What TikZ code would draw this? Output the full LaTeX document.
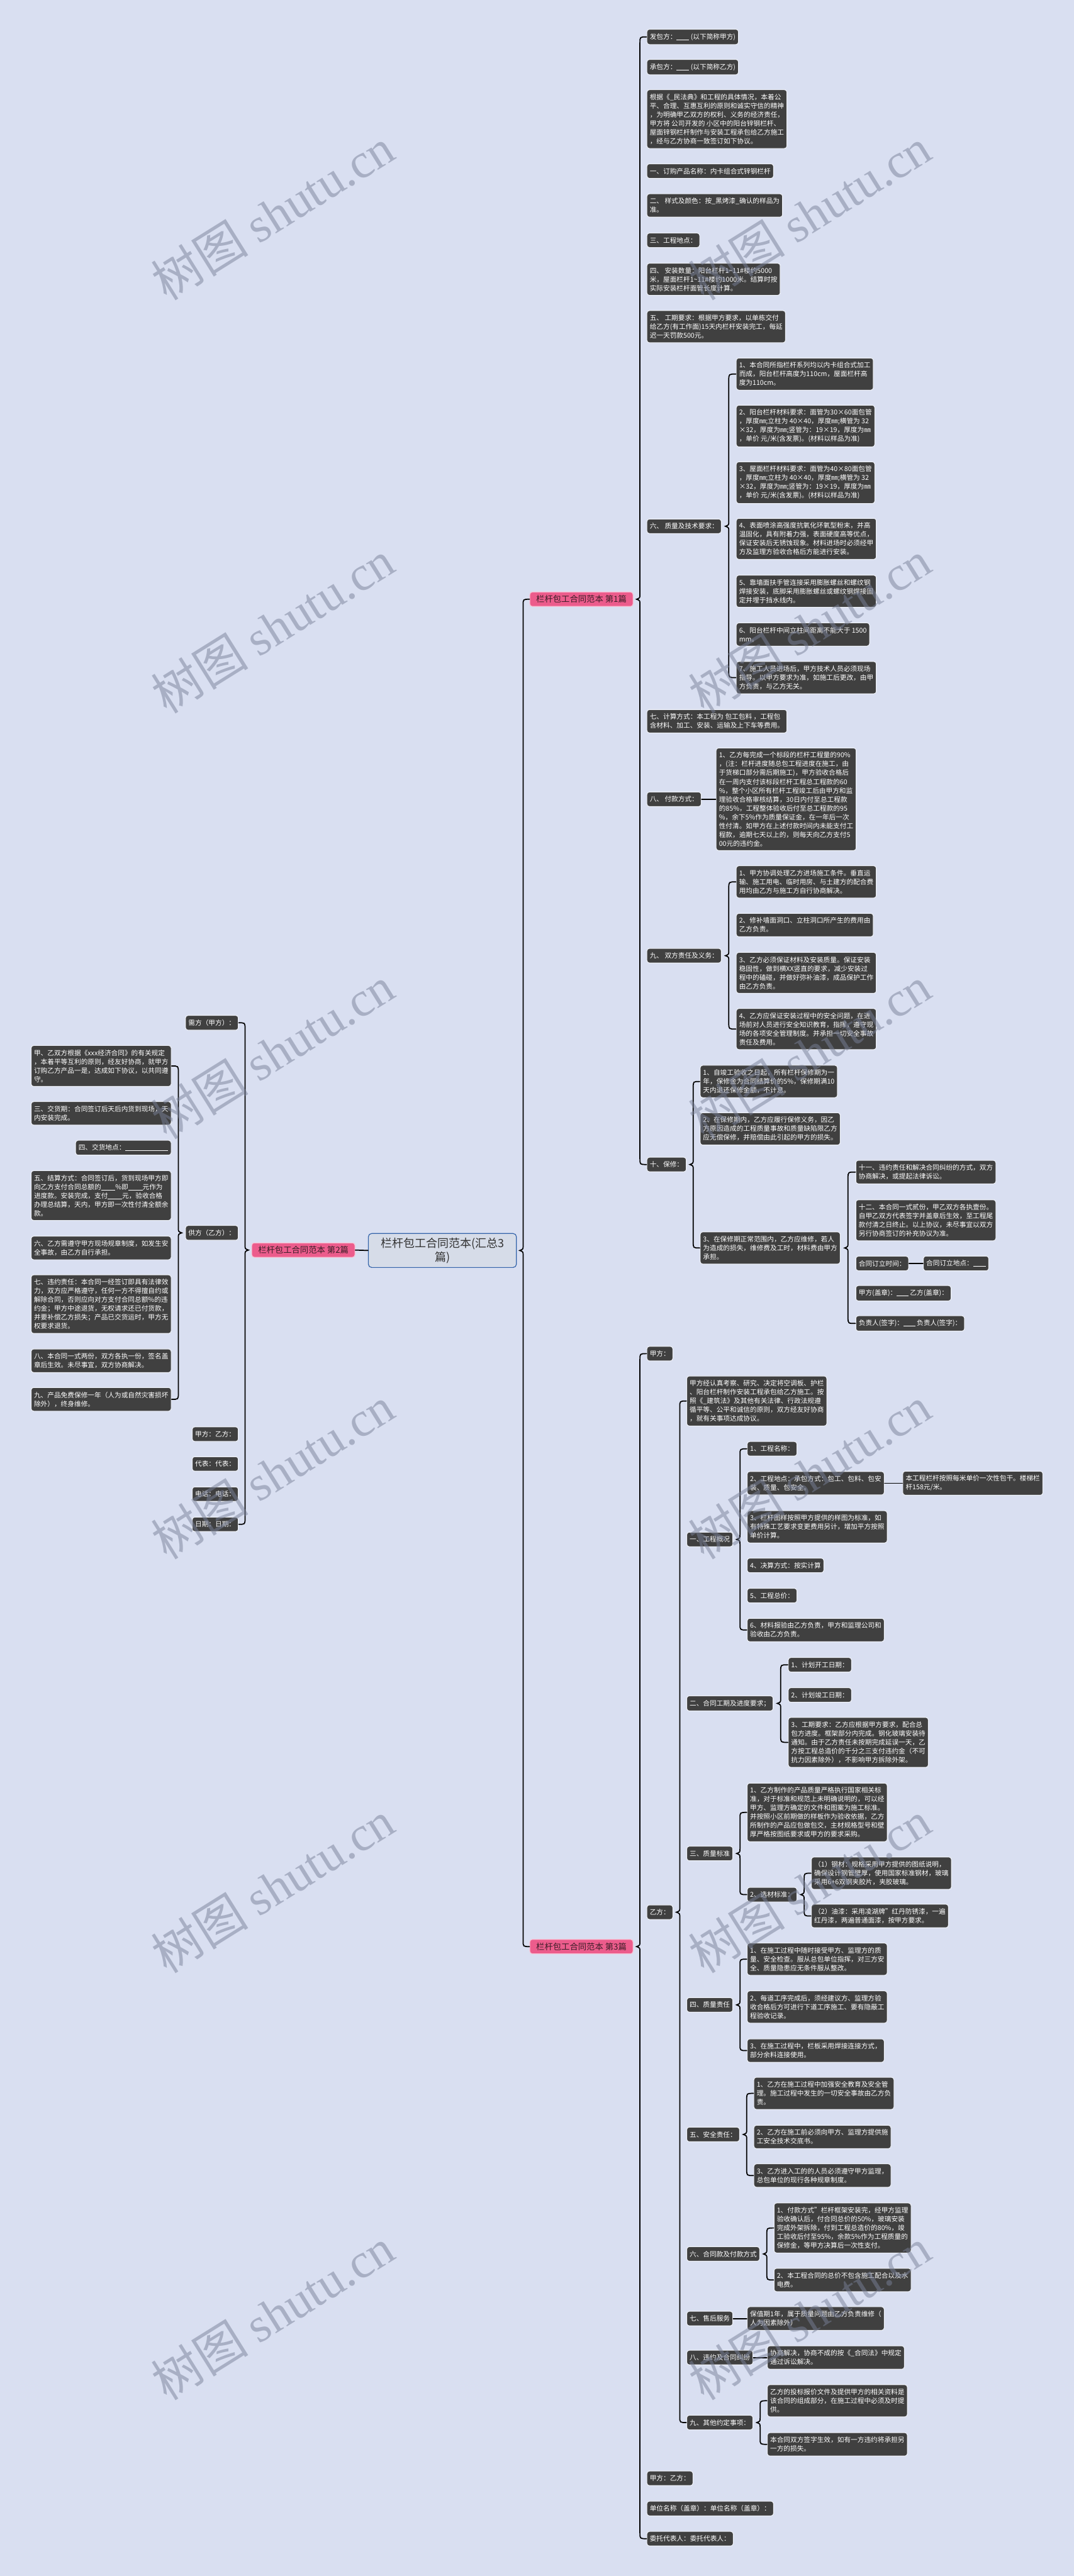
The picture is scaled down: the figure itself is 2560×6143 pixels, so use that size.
\documentclass[tikz,border=0pt]{standalone}
\usepackage{fontspec}
\setmainfont{Noto Sans CJK SC}
\newfontfamily\wmlatin{Liberation Serif}
\usetikzlibrary{calc}
\definecolor{bgc}{RGB}{217,223,241}
\definecolor{leafc}{RGB}{64,64,64}
\definecolor{leafborder}{RGB}{236,239,246}
\definecolor{pinkc}{RGB}{236,92,140}
\definecolor{pinkborder}{RGB}{246,196,214}
\definecolor{pinktext}{RGB}{60,30,40}
\definecolor{centc}{RGB}{214,220,232}
\definecolor{centborder}{RGB}{52,100,170}
\definecolor{wmc}{RGB}{120,128,152}
\newcommand\blank[1]{\rule[-0.12em]{#1}{0.07em}}
\newcommand\mmR[3]{\draw[conn] let \p1=(#1.east), \p2=(#2.west), \p3=(#3.west), \p4=($(#1.east)!0.5!(#2.west)$) in
 (\x2,\y2) .. controls (\x4,\y2) .. (\x4,\y2-7pt) -- (\x4,\y1+6pt) .. controls (\x4,\y1+1.5pt) .. (\x4-4pt,\y1) .. controls (\x4,\y1-1.5pt) .. (\x4,\y1-6pt) -- (\x4,\y3+7pt) .. controls (\x4,\y3) .. (\x3,\y3);}
\newcommand\mmL[3]{\draw[conn] let \p1=(#1.west), \p2=(#2.east), \p3=(#3.east), \p4=($(#1.west)!0.5!(#2.east)$) in
 (\x2,\y2) .. controls (\x4,\y2) .. (\x4,\y2-7pt) -- (\x4,\y1+6pt) .. controls (\x4,\y1+1.5pt) .. (\x4+4pt,\y1) .. controls (\x4,\y1-1.5pt) .. (\x4,\y1-6pt) -- (\x4,\y3+7pt) .. controls (\x4,\y3) .. (\x3,\y3);}
\begin{document}
\begin{tikzpicture}[x=0.5pt,y=-0.5pt,
 conn/.style={line width=1.3pt,draw=black,line cap=round},
 box/.style={rounded corners=3pt,line width=0.9pt,inner xsep=3.5pt,inner ysep=5pt,align=left,font=\fontsize{8pt}{10.5pt}\selectfont},
 leaf/.style={box,fill=leafc,draw=leafborder,text=white},
 topic/.style={rounded corners=3pt,line width=0.9pt,fill=pinkc,draw=pinkborder,text=pinktext,font=\fontsize{10pt}{12pt}\selectfont,inner xsep=4.5pt,inner ysep=4pt,minimum width=123pt},
 root/.style={rounded corners=4pt,line width=0.9pt,fill=centc,draw=centborder,text=black!80,font=\fontsize{13.5pt}{16.5pt}\selectfont,align=center,minimum width=176.5pt,inner ysep=5pt},
 wm/.style={text=wmc,text opacity=0.5,font=\fontsize{58pt}{60pt}\selectfont,rotate=32}
]
\fill[bgc] (0,0) rectangle (2560,6143);
\useasboundingbox (0,0) rectangle (2560,6143);

% root and topics
\node[root] (root) at (1054.5,2982) {栏杆包工合同范本(汇总3\\篇)};
\node[topic,anchor=west] (t1) at (1262,1429) {栏杆包工合同范本 第1篇};
\node[topic,anchor=east] (t2) at (847,2981) {栏杆包工合同范本 第2篇};
\node[topic,anchor=west] (t3) at (1262,4642) {栏杆包工合同范本 第3篇};

% ---------- branch 1 ----------
\node[leaf,anchor=west] (a1) at (1541,88) {发包方：\blank{15pt} (以下简称甲方)};
\node[leaf,anchor=west] (a2) at (1541,160) {承包方：\blank{15pt} (以下简称乙方)};
\node[leaf,anchor=west] (a3) at (1541,284) {根据《\_民法典》和工程的具体情况，本着公\\平、合理、互惠互利的原则和诚实守信的精神\\，为明确甲乙双方的权利、义务的经济责任，\\甲方将 公司开发的 小区中的阳台锌钢栏杆、\\屋面锌钢栏杆制作与安装工程承包给乙方施工\\，经与乙方协商一致签订如下协议。};
\node[leaf,anchor=west] (a4) at (1541,408) {一、订购产品名称：内卡组合式锌钢栏杆};
\node[leaf,anchor=west] (a5) at (1541,490) {二、 样式及颜色：按\_黑烤漆\_确认的样品为\\准。};
\node[leaf,anchor=west] (a6) at (1541,573) {三、工程地点：};
\node[leaf,anchor=west] (a7) at (1541,666) {四、 安装数量：阳台栏杆1\textasciitilde 11\#楼约5000\\米，屋面栏杆1\textasciitilde 11\#楼约1000米。结算时按\\实际安装栏杆面管长度计算。};
\node[leaf,anchor=west] (a8) at (1541,779) {五、 工期要求：根据甲方要求，以单栋交付\\给乙方(有工作面)15天内栏杆安装完工，每延\\迟一天罚款500元。};
\node[leaf,anchor=west] (a9) at (1541,1255) {六、 质量及技术要求：};
\node[leaf,anchor=west] (a9s1) at (1754,892) {1、本合同所指栏杆系列均以内卡组合式加工\\而成，阳台栏杆高度为110cm，屋面栏杆高\\度为110cm。};
\node[leaf,anchor=west] (a9s2) at (1754,1016) {2、阳台栏杆材料要求：面管为30×60面包管\\，厚度㎜;立柱为 40×40，厚度㎜;横管为 32\\×32，厚度为㎜;竖管为：19×19，厚度为㎜\\，单价 元/米(含发票)。(材料以样品为准)};
\node[leaf,anchor=west] (a9s3) at (1754,1151) {3、屋面栏杆材料要求：面管为40×80面包管\\，厚度㎜;立柱为 40×40，厚度㎜;横管为 32\\×32，厚度为㎜;竖管为：19×19，厚度为㎜\\，单价 元/米(含发票)。(材料以样品为准)};
\node[leaf,anchor=west] (a9s4) at (1754,1285) {4、表面喷涂高强度抗氧化环氧型粉末，并高\\温固化，具有附着力强，表面硬度高等优点，\\保证安装后无锈蚀现象。材料进场时必须经甲\\方及监理方验收合格后方能进行安装。};
\node[leaf,anchor=west] (a9s5) at (1754,1410) {5、靠墙面扶手管连接采用膨胀螺丝和螺纹钢\\焊接安装，底脚采用膨胀螺丝或螺纹钢焊接固\\定并埋于挡水线内。};
\node[leaf,anchor=west] (a9s6) at (1754,1513) {6、阳台栏杆中间立柱间距离不能大于 1500\\mm。};
\node[leaf,anchor=west] (a9s7) at (1754,1616) {7、施工人员进场后，甲方技术人员必须现场\\指导。以甲方要求为准，如施工后更改，由甲\\方负责，与乙方无关。};
\node[leaf,anchor=west] (a10) at (1541,1720) {七、计算方式：本工程为 包工包料 ，工程包\\含材料、加工、安装、运输及上下车等费用。};
\node[leaf,anchor=west] (a11) at (1541,1906) {八、 付款方式：};
\node[leaf,anchor=west] (a11s) at (1706,1906) {1、乙方每完成一个标段的栏杆工程量的90\%\\，(注：栏杆进度随总包工程进度在施工，由\\于货梯口部分需后期施工)，甲方验收合格后\\在一周内支付该标段栏杆工程总工程款的60\\\%，整个小区所有栏杆工程竣工后由甲方和监\\理验收合格审核结算，30日内付至总工程款\\的85\%，工程整体验收后付至总工程款的95\\\%，余下5\%作为质量保证金，在一年后一次\\性付清。如甲方在上述付款时间内未能支付工\\程款，逾期七天以上的，则每天向乙方支付5\\00元的违约金。};
\node[leaf,anchor=west] (a12) at (1541,2279) {九、 双方责任及义务：};
\node[leaf,anchor=west] (a12s1) at (1754,2103) {1、甲方协调处理乙方进场施工条件。垂直运\\输、施工用电、临时用房、与土建方的配合费\\用均由乙方与施工方自行协商解决。};
\node[leaf,anchor=west] (a12s2) at (1754,2206) {2、修补墙面洞口、立柱洞口所产生的费用由\\乙方负责。};
\node[leaf,anchor=west] (a12s3) at (1754,2320) {3、乙方必须保证材料及安装质量。保证安装\\稳固性，做到横XX竖直的要求，减少安装过\\程中的磕碰，并做好弥补油漆，成品保护工作\\由乙方负责。};
\node[leaf,anchor=west] (a12s4) at (1754,2454) {4、乙方应保证安装过程中的安全问题，在进\\场前对人员进行安全知识教育，指挥，遵守现\\场的各项安全管理制度。并承担一切安全事故\\责任及费用。};
\node[leaf,anchor=west] (a13) at (1541,2777) {十、保修：};
\node[leaf,anchor=west] (a13s1) at (1668,2579) {1、自竣工验收之日起，所有栏杆保修期为一\\年，保修金为合同结算价的5\%，保修期满10\\天内退还保修金额，不计息。};
\node[leaf,anchor=west] (a13s2) at (1668,2692) {2、在保修期内，乙方应履行保修义务，因乙\\方原因造成的工程质量事故和质量缺陷限乙方\\应无偿保修，并赔偿由此引起的甲方的损失。};
\node[leaf,anchor=west] (a13s3) at (1668,2976) {3、在保修期正常范围内，乙方应维修，若人\\为造成的损失，维修费及工时，材料费由甲方\\承担。};
\node[leaf,anchor=west] (x1) at (2039,2795) {十一、违约责任和解决合同纠纷的方式，双方\\协商解决，或提起法律诉讼。};
\node[leaf,anchor=west] (x2) at (2039,2910) {十二、本合同一式贰份，甲乙双方各执壹份。\\自甲乙双方代表签字并盖章后生效，至工程尾\\款付清之日终止。以上协议，未尽事宜以双方\\另行协商签订的补充协议为准。};
\node[leaf,anchor=west] (x3) at (2039,3013) {合同订立时间：};
\node[leaf,anchor=west] (x3b) at (2200,3013) {合同订立地点：\blank{15pt}};
\node[leaf,anchor=west] (x4) at (2039,3084) {甲方(盖章)：\blank{14pt} 乙方(盖章)：};
\node[leaf,anchor=west] (x5) at (2039,3156) {负责人(签字)：\blank{14pt} 负责人(签字)：};

% ---------- branch 2 ----------
\node[leaf,anchor=east] (l1) at (569,2439) {需方（甲方）：};
\node[leaf,anchor=east] (l2) at (569,2940) {供方（乙方）：};
\node[leaf,anchor=east] (l3) at (569,3420) {甲方：乙方：};
\node[leaf,anchor=east] (l4) at (569,3491) {代表：代表：};
\node[leaf,anchor=east] (l5) at (569,3563) {电话：电话：};
\node[leaf,anchor=east] (l6) at (569,3635) {日期：日期：};
\node[leaf,anchor=east] (m1) at (409,2542) {甲、乙双方根据《xxx经济合同》的有关规定\\，本着平等互利的原则，经友好协商，就甲方\\订购乙方产品一是，达成如下协议，以共同遵\\守。};
\node[leaf,anchor=east] (m2) at (409,2655) {三、交货期：合同签订后天后内货到现场，天\\内安装完成。};
\node[leaf,anchor=east] (m3) at (409,2737) {四、交货地点：\blank{51pt}};
\node[leaf,anchor=east] (m4) at (409,2851) {五、结算方式：合同签订后，货到现场甲方即\\向乙方支付合同总额的\blank{17pt}\%即\blank{17pt}元作为\\进度款。安装完成，支付\blank{17pt}元，验收合格\\办理总结算，天内，甲方即一次性付清全额余\\款。};
\node[leaf,anchor=east] (m5) at (409,2976) {六、乙方需遵守甲方现场规章制度，如发生安\\全事故，由乙方自行承担。};
\node[leaf,anchor=east] (m6) at (409,3110) {七、违约责任：本合同一经签订即具有法律效\\力，双方应严格遵守，任何一方不得擅自约或\\解除合同，否则应向对方支付合同总额\%的违\\约金；甲方中途退货，无权请求还已付货款，\\并要补偿乙方损失；产品已交货运时，甲方无\\权要求退货。};
\node[leaf,anchor=east] (m7) at (409,3245) {八、本合同一式两份，双方各执一份，签名盖\\章后生效。未尽事宜，双方协商解决。};
\node[leaf,anchor=east] (m8) at (409,3337) {九、产品免费保修一年（人为或自然灾害损坏\\除外），终身维修。};

% ---------- branch 3 ----------
\node[leaf,anchor=west] (c1) at (1541,3228) {甲方：};
\node[leaf,anchor=west] (c2) at (1541,4560) {乙方：};
\node[leaf,anchor=west] (c3) at (1541,5910) {甲方：乙方：};
\node[leaf,anchor=west] (c4) at (1541,5982) {单位名称（盖章）：单位名称（盖章）：};
\node[leaf,anchor=west] (c5) at (1541,6054) {委托代表人：委托代表人：};
\node[leaf,anchor=west] (d0) at (1636,3341) {甲方经认真考察、研究、决定将空调板、护栏\\、阳台栏杆制作安装工程承包给乙方施工。按\\照《\_建筑法》及其他有关法律、行政法规遵\\循平等、公平和诚信的原则，双方经友好协商\\，就有关事项达成协议。};
\node[leaf,anchor=west] (d1) at (1636,3671) {一、工程概况};
\node[leaf,anchor=west] (d1s1) at (1780,3455) {1、工程名称：};
\node[leaf,anchor=west] (d1s2) at (1780,3537) {2、工程地点：承包方式：包工、包料、包安\\装、质量、包安全。};
\node[leaf,anchor=west] (d1s2b) at (2151,3537) {本工程栏杆按照每米单价一次性包干。楼梯栏\\杆158元/米。};
\node[leaf,anchor=west] (d1s3) at (1780,3641) {3、栏杆图样按照甲方提供的样图为标准，如\\有特殊工艺要求变更费用另计，增加平方按照\\单价计算。};
\node[leaf,anchor=west] (d1s4) at (1780,3733) {4、决算方式：按实计算};
\node[leaf,anchor=west] (d1s5) at (1780,3805) {5、工程总价：};
\node[leaf,anchor=west] (d1s6) at (1780,3887) {6、材料报验由乙方负责，甲方和监理公司和\\验收由乙方负责。};
\node[leaf,anchor=west] (d2) at (1636,4062) {二、合同工期及进度要求；};
\node[leaf,anchor=west] (d2s1) at (1878,3970) {1、计划开工日期：};
\node[leaf,anchor=west] (d2s2) at (1878,4042) {2、计划竣工日期：};
\node[leaf,anchor=west] (d2s3) at (1878,4155) {3、工期要求：乙方应根据甲方要求，配合总\\包方进度。框架部分内完成。钢化玻璃安装待\\通知。由于乙方责任未按期完成延误一天，乙\\方按工程总造价的千分之三支付违约金（不可\\抗力因素除外），不影响甲方拆除外架。};
\node[leaf,anchor=west] (d3) at (1636,4420) {三、质量标准};
\node[leaf,anchor=west] (d3s1) at (1780,4322) {1、乙方制作的产品质量严格执行国家相关标\\准，对于标准和规范上未明确说明的，可以经\\甲方、监理方确定的文件和图案为施工标准。\\并按照小区前期做的样板作为验收依据，乙方\\所制作的产品应包做包交，主材规格型号和壁\\厚严格按图纸要求或甲方的要求采购。};
\node[leaf,anchor=west] (d3s2) at (1780,4518) {2、选材标准：};
\node[leaf,anchor=west] (e1) at (1933,4467) {（1）钢材：规格采用甲方提供的图纸说明，\\确保设计钢管壁厚，使用国家标准钢材，玻璃\\采用6+6双钢夹胶片，夹胶玻璃。};
\node[leaf,anchor=west] (e2) at (1933,4569) {（2）油漆：采用凌湖牌"红丹防锈漆，一遍\\红丹漆，两遍普通面漆，按甲方要求。};
\node[leaf,anchor=west] (d4) at (1636,4781) {四、质量责任};
\node[leaf,anchor=west] (d4s1) at (1780,4672) {1、在施工过程中随时接受甲方、监理方的质\\量、安全检查。服从总包单位指挥，对三方安\\全、质量隐患应无条件服从整改。};
\node[leaf,anchor=west] (d4s2) at (1780,4786) {2、每道工序完成后，须经建议方、监理方验\\收合格后方可进行下道工序施工、要有隐蔽工\\程验收记录。};
\node[leaf,anchor=west] (d4s3) at (1780,4890) {3、在施工过程中，栏板采用焊接连接方式，\\部分余料连接使用。};
\node[leaf,anchor=west] (d5) at (1636,5090) {五、安全责任：};
\node[leaf,anchor=west] (d5s1) at (1796,4992) {1、乙方在施工过程中加强安全教育及安全管\\理。施工过程中发生的一切安全事故由乙方负\\责。};
\node[leaf,anchor=west] (d5s2) at (1796,5096) {2、乙方在施工前必须向甲方、监理方提供施\\工安全技术交底书。};
\node[leaf,anchor=west] (d5s3) at (1796,5188) {3、乙方进入工的的人员必须遵守甲方监理，\\总包单位的现行各种规章制度。};
\node[leaf,anchor=west] (d6) at (1636,5375) {六、合同款及付款方式};
\node[leaf,anchor=west] (d6s1) at (1844,5313) {1、付款方式"栏杆框架安装完，经甲方监理\\验收确认后，付合同总价的50\%，玻璃安装\\完成外架拆除，付到工程总造价的80\%，竣\\工验收后付至95\%，余款5\%作为工程质量的\\保修金，等甲方决算后一次性支付。};
\node[leaf,anchor=west] (d6s2) at (1844,5437) {2、本工程合同的总价不包含施工配合以及水\\电费。};
\node[leaf,anchor=west] (d7) at (1636,5529) {七、售后服务};
\node[leaf,anchor=west] (d7s) at (1780,5529) {保值期1年，属于质量问题由乙方负责维修（\\人为因素除外）};
\node[leaf,anchor=west] (d8) at (1636,5622) {八、违约及合同纠纷};
\node[leaf,anchor=west] (d8s) at (1828,5622) {协商解决，协商不成的按《\_合同法》中规定\\通过诉讼解决。};
\node[leaf,anchor=west] (d9) at (1636,5777) {九、其他约定事项：};
\node[leaf,anchor=west] (d9s1) at (1828,5725) {乙方的投标报价文件及提供甲方的相关资料是\\该合同的组成部分，在施工过程中必须及时提\\供。};
\node[leaf,anchor=west] (d9s2) at (1828,5829) {本合同双方签字生效，如有一方违约将承担另\\一方的损失。};

% ---------- connectors ----------
\draw[conn] (root.west) -- (t2.east);
\mmR{root}{t1}{t3}
\mmR{t1}{a1}{a13}
\mmR{a9}{a9s1}{a9s7}
\draw[conn] (a11.east) -- (a11s.west);
\mmR{a12}{a12s1}{a12s4}
\mmR{a13}{a13s1}{a13s3}
\mmR{a13s3}{x1}{x5}
\draw[conn] (x3.east) -- (x3b.west);
\mmL{t2}{l1}{l6}
\mmL{l2}{m1}{m8}
\mmR{t3}{c1}{c5}
\mmR{c2}{d0}{d9}
\mmR{d1}{d1s1}{d1s6}
\draw[conn] (d1s2.east) -- (d1s2b.west);
\mmR{d2}{d2s1}{d2s3}
\mmR{d3}{d3s1}{d3s2}
\mmR{d3s2}{e1}{e2}
\mmR{d4}{d4s1}{d4s3}
\mmR{d5}{d5s1}{d5s3}
\mmR{d6}{d6s1}{d6s2}
\draw[conn] (d7.east) -- (d7s.west);
\draw[conn] (d8.east) -- (d8s.west);
\mmR{d9}{d9s1}{d9s2}

% ---------- watermarks ----------
\foreach \wy [count=\i] in {510,1495,2510,3512,4500,5518}{
  \node[wm] (wl\i) at (650,\wy) {树图 {\wmlatin shutu.cn}};
  \node[wm] (wr\i) at (1930,\wy) {树图 {\wmlatin shutu.cn}};
}
\end{tikzpicture}
\end{document}
